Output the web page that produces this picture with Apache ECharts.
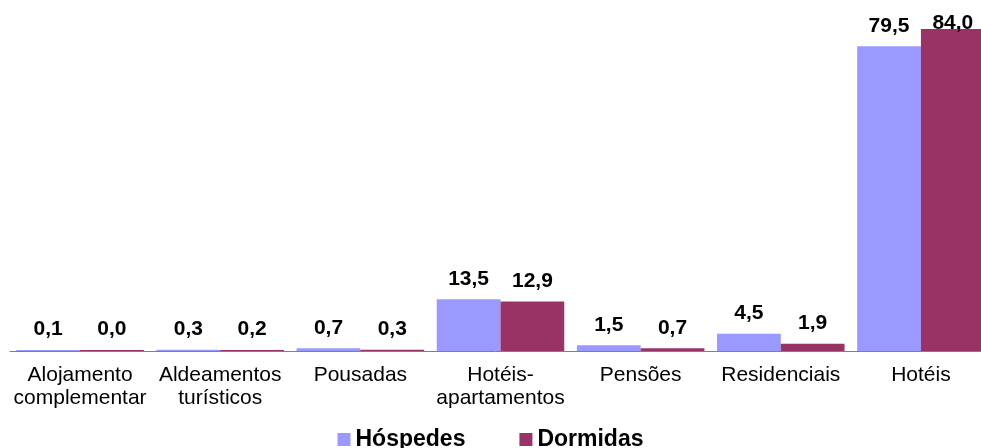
<!DOCTYPE html>
<html>
<head>
<meta charset="utf-8">
<script src="https://cdn.jsdelivr.net/npm/echarts@6/dist/echarts.min.js"></script>
<style>
  html, body { margin: 0; padding: 0; background: #fff; }
  #chart { width: 981px; height: 448px; }
</style>
</head>
<body>
<div id="chart"></div>
<script>
// categorias e valores (%)
var categories = ['Alojamento\ncomplementar', 'Aldeamentos\nturísticos', 'Pousadas', 'Hotéis-\napartamentos', 'Pensões', 'Residenciais', 'Hotéis'];
var hospedes = [0.1, 0.3, 0.7, 13.5, 1.5, 4.5, 79.5];
var dormidas = [0.0, 0.2, 0.3, 12.9, 0.7, 1.9, 84.0];

var fmt = function (p) { return p.value.toFixed(1).replace('.', ',') };

var chart = echarts.init(document.getElementById('chart'));
chart.setOption({
    animation: false,
    textStyle: { fontFamily: 'Liberation Sans, Arial, sans-serif' },
    // a última categoria sai fora da janela, como no original
    grid: { left: 10, top: 0, width: 981, height: 351, outerBoundsMode: 'none' },
    legend: {
        top: 428,
        left: 'center',
        padding: 0,
        itemWidth: 13,
        itemHeight: 13,
        itemGap: 54,
        icon: 'rect',
        textStyle: { fontSize: 23, fontWeight: 'bold', color: '#000', padding: [0, 0, 0, 0] },
        data: ['Hóspedes', 'Dormidas']
    },
    xAxis: {
        type: 'category',
        data: categories,
        axisLine: { lineStyle: { color: '#808080', width: 1 } },
        axisTick: { length: 5, lineStyle: { color: '#808080' } },
        axisLabel: { interval: 0, fontSize: 21, lineHeight: 23, color: '#000', margin: 13 }
    },
    yAxis: {
        type: 'value',
        min: 0,
        max: 91.6,
        show: false,
        splitLine: { show: false }
    },
    series: [
        {
            name: 'Hóspedes',
            type: 'bar',
            data: hospedes,
            barGap: '0%',
            barCategoryGap: '9%',
            barMinHeight: 1,
            itemStyle: { color: '#9999FF' },
            label: { show: true, position: 'top', distance: 10, formatter: fmt, fontSize: 21, fontWeight: 'bold', color: '#000' }
        },
        {
            name: 'Dormidas',
            type: 'bar',
            barMinHeight: 1,
            data: dormidas.map(function (v, i) {
                // último rótulo fica junto ao topo da barra
                return i === dormidas.length - 1 ? { value: v, label: { distance: -5 } } : v
            }),
            itemStyle: { color: '#993366' },
            label: { show: true, position: 'top', distance: 10, formatter: fmt, fontSize: 21, fontWeight: 'bold', color: '#000' }
        }
    ]
});
</script>
</body>
</html>
